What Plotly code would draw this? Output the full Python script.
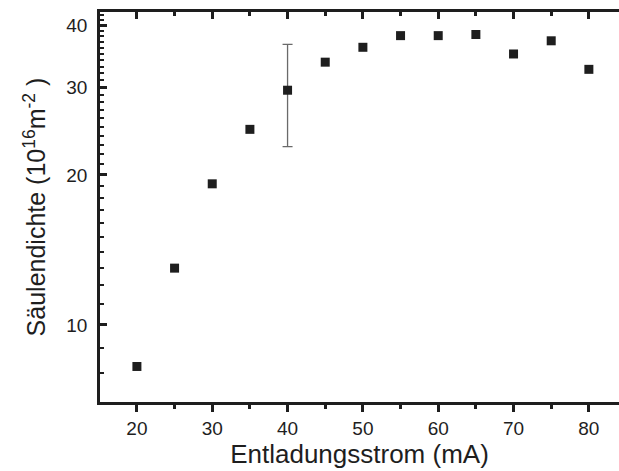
import math
import plotly.graph_objects as go

# Discharge current (mA) and column density (10^16 m^-2)
current_mA = [20, 25, 30, 35, 40, 45, 50, 55, 60, 65, 70, 75, 80]
column_density = [8.25, 13.0, 19.2, 24.7, 29.6, 33.7, 36.1, 38.1, 38.1, 38.3, 35.0, 37.2, 32.6]

# Error bar only on the 40 mA measurement
err_plus = [0, 0, 0, 0, 7.0, 0, 0, 0, 0, 0, 0, 0, 0]
err_minus = [0, 0, 0, 0, 6.8, 0, 0, 0, 0, 0, 0, 0, 0]
err_visible = [False, False, False, False, True] + [False] * 8

x_major_ticks = [20, 30, 40, 50, 60, 70, 80]
x_minor_ticks = [25, 35, 45, 55, 65, 75]
y_major_ticks = [10, 20, 30, 40]
y_minor_ticks = [v for v in range(7, 43) if v not in y_major_ticks]

FONT = "Liberation Sans, Arial, sans-serif"
INK = "#1e1e1e"

fig = go.Figure()

# Error bar trace (only the point that carries an uncertainty)
fig.add_trace(go.Scatter(
    x=[c for c, v in zip(current_mA, err_visible) if v],
    y=[d for d, v in zip(column_density, err_visible) if v],
    mode="markers",
    marker=dict(size=1, opacity=0),
    error_y=dict(
        type="data", symmetric=False,
        array=[p for p, v in zip(err_plus, err_visible) if v],
        arrayminus=[m for m, v in zip(err_minus, err_visible) if v],
        color="#6a6a6a", thickness=1.3, width=5,
    ),
    hoverinfo="skip", showlegend=False,
))

fig.add_trace(go.Scatter(
    x=current_mA, y=column_density,
    mode="markers",
    marker=dict(symbol="square", size=9, color=INK, line=dict(width=0)),
    showlegend=False,
))

# Invisible companion trace so the top frame axis gets drawn
fig.add_trace(go.Scatter(
    x=current_mA, y=column_density, xaxis="x2",
    mode="markers", marker=dict(opacity=0),
    hoverinfo="skip", showlegend=False,
))

axis_common = dict(
    showgrid=False, zeroline=False,
    showline=True, linecolor=INK, linewidth=2.5,
    tickcolor=INK, tickwidth=2.5,
)

fig.update_layout(
    width=619, height=471,
    margin=dict(l=100, r=0, t=12, b=69),
    plot_bgcolor="white", paper_bgcolor="white",
    font=dict(family=FONT, color=INK),
    xaxis=dict(
        **axis_common,
        range=[15.1, 84.0],
        tickmode="array", tickvals=x_major_ticks,
        ticks="outside", ticklen=7,
        minor=dict(tickmode="array", tickvals=x_minor_ticks, ticks="outside",
                   ticklen=4, tickcolor=INK, tickwidth=2.5),
        tickfont=dict(size=19, family=FONT, color=INK),
        title=dict(text="Entladungsstrom (mA)", font=dict(size=26, family=FONT, color=INK),
                   standoff=7),
        automargin=False,
    ),
    xaxis2=dict(
        **axis_common,
        overlaying="x", matches="x", side="top", anchor="y",
        tickmode="array", tickvals=x_major_ticks,
        ticks="inside", ticklen=7,
        minor=dict(tickmode="array", tickvals=x_minor_ticks, ticks="inside",
                   ticklen=4, tickcolor=INK, tickwidth=2.5),
        showticklabels=False,
    ),
    yaxis=dict(
        **axis_common,
        type="log",
        range=[math.log10(7.0), math.log10(42.5)],
        tickmode="array", tickvals=y_major_ticks,
        ticktext=[str(v) for v in y_major_ticks],
        ticks="inside", ticklen=7,
        minor=dict(tickmode="array", tickvals=y_minor_ticks, ticks="inside",
                   ticklen=4, tickcolor=INK, tickwidth=2),
        tickfont=dict(size=19, family=FONT, color=INK),
        ticklabelstandoff=6,
        title=dict(text="Säulendichte (10<sup>16</sup>m<sup>-2</sup> )",
                   font=dict(size=25, family=FONT, color=INK), standoff=14),
        automargin=False,
    ),
)

fig.write_html("out.html")
